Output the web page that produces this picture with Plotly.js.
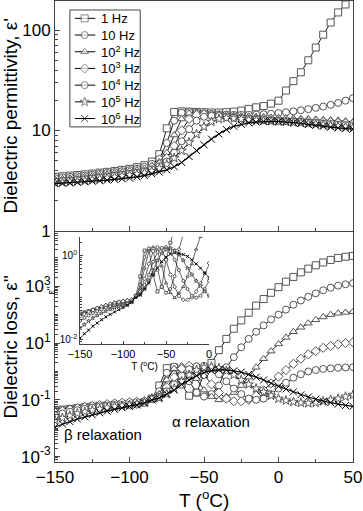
<!DOCTYPE html>
<html>
<head>
<meta charset="utf-8">
<script src="https://cdn.plot.ly/plotly-3.0.1.min.js"></script>
<style>
  html, body { margin: 0; padding: 0; background: #fff; }
  #plot { width: 363px; height: 511px; }
</style>
</head>
<body>
<div id="plot"></div>
<script>
// Temperature grid (°C)
var temp = [-150, -145, -140, -135, -130, -125, -120, -115, -110, -105, -100, -95, -90, -85, -80, -75, -70, -65, -60, -55,
  -50, -45, -40, -35, -30, -25, -20, -15, -10, -5, 0, 5, 10, 15, 20, 25, 30, 35, 40, 45, 50];

var freqNames = ['1 Hz', '10 Hz', '10<sup>2</sup> Hz', '10<sup>3</sup> Hz', '10<sup>4</sup> Hz', '10<sup>5</sup> Hz', '10<sup>6</sup> Hz'];

// Dielectric permittivity, eps'
var perm1Hz = [3.45, 3.5, 3.55, 3.6, 3.65, 3.72, 3.8, 3.87, 3.95, 4.05, 4.15, 4.3, 4.5, 4.9, 5.8, 10.5, 15.3, 15.5, 15.4, 15.3,
  15.2, 15.1, 15.1, 15.2, 15.4, 15.8, 16.4, 17.0, 17.5, 18.5, 19.8, 25, 31, 38, 50, 67, 90, 119, 150, 180, 215];
var perm10Hz = [3.35, 3.4, 3.45, 3.5, 3.55, 3.62, 3.7, 3.77, 3.85, 3.93, 4.03, 4.15, 4.33, 4.65, 5.2, 7.5, 12.5, 15.0, 15.2, 15.0,
  14.8, 14.6, 14.5, 14.4, 14.3, 14.3, 14.3, 14.4, 14.5, 14.7, 14.9, 15.2, 15.5, 15.9, 16.3, 16.8, 17.3, 18.0, 18.8, 19.8, 21.0];
var perm100Hz = [3.25, 3.3, 3.35, 3.4, 3.45, 3.52, 3.6, 3.67, 3.75, 3.83, 3.92, 4.03, 4.18, 4.45, 4.85, 6.0, 9.0, 13.0, 14.8, 14.9,
  14.7, 14.5, 14.3, 14.1, 14.0, 13.9, 13.8, 13.7, 13.6, 13.5, 13.4, 13.3, 13.2, 13.1, 13.0, 12.9, 12.8, 12.7, 12.6, 12.4, 12.2];
var perm1kHz = [3.15, 3.2, 3.25, 3.3, 3.35, 3.42, 3.5, 3.57, 3.65, 3.73, 3.82, 3.92, 4.05, 4.3, 4.6, 5.3, 7.0, 10.0, 13.0, 14.3,
  14.5, 14.3, 14.1, 13.9, 13.7, 13.5, 13.4, 13.2, 13.1, 13.0, 12.9, 12.8, 12.6, 12.5, 12.4, 12.3, 12.2, 12.1, 11.9, 11.8, 11.6];
var perm10kHz = [3.1, 3.14, 3.18, 3.22, 3.27, 3.33, 3.4, 3.47, 3.55, 3.62, 3.7, 3.8, 3.92, 4.1, 4.4, 4.9, 6.0, 7.8, 10.3, 12.5,
  13.7, 14.0, 13.9, 13.6, 13.4, 13.2, 13.0, 12.9, 12.7, 12.6, 12.5, 12.4, 12.3, 12.2, 12.0, 11.9, 11.7, 11.6, 11.4, 11.3, 11.1];
var perm100kHz = [3.0, 3.04, 3.08, 3.12, 3.17, 3.23, 3.3, 3.37, 3.45, 3.52, 3.6, 3.68, 3.8, 3.95, 4.2, 4.6, 5.3, 6.3, 7.6, 9.2,
  10.9, 12.2, 13.0, 13.3, 13.2, 13.0, 12.8, 12.7, 12.5, 12.4, 12.3, 12.2, 12.0, 11.9, 11.7, 11.6, 11.4, 11.2, 11.0, 10.9, 10.7];
var perm1MHz = [2.95, 2.98, 3.0, 3.04, 3.08, 3.12, 3.15, 3.2, 3.25, 3.3, 3.35, 3.45, 3.55, 3.7, 3.85, 4.05, 4.35, 4.8, 5.5, 6.3,
  7.2, 8.2, 9.2, 10.2, 11.0, 11.5, 11.9, 12.1, 12.3, 12.3, 12.3, 12.2, 12.0, 11.8, 11.5, 11.2, 11.0, 10.8, 10.6, 10.4, 10.3];

// Dielectric loss, eps''
var loss1Hz = [0.042, 0.045, 0.048, 0.051, 0.055, 0.058, 0.061, 0.064, 0.067, 0.070, 0.073, 0.077, 0.082, 0.11, 0.32, 1.3, 1.4, 0.35, 0.14, 0.18,
  0.8, 2.0, 5.6, 14, 32, 63, 117, 209, 355, 590, 930, 1450, 2140, 3090, 4170, 5500, 6900, 8500, 10000, 11000, 11700];
var loss10Hz = [0.040, 0.044, 0.048, 0.052, 0.056, 0.060, 0.064, 0.068, 0.072, 0.076, 0.080, 0.084, 0.088, 0.11, 0.2, 0.9, 1.48, 1.26, 0.45, 0.18,
  0.13, 0.16, 0.32, 1.4, 3.2, 7.1, 14, 25, 42, 68, 100, 151, 224, 316, 427, 562, 724, 891, 1050, 1175, 1290];
var loss100Hz = [0.038, 0.043, 0.048, 0.053, 0.058, 0.063, 0.068, 0.073, 0.078, 0.082, 0.086, 0.089, 0.092, 0.105, 0.16, 0.5, 1.26, 1.58, 1.3, 0.56,
  0.22, 0.13, 0.1, 0.13, 0.18, 0.32, 0.63, 1.4, 2.8, 5.2, 9.3, 15.8, 25, 36, 50, 66, 83, 100, 112, 120, 126];
var loss1kHz = [0.036, 0.041, 0.046, 0.051, 0.056, 0.061, 0.066, 0.071, 0.075, 0.079, 0.082, 0.085, 0.09, 0.11, 0.14, 0.28, 0.63, 1.26, 1.58, 1.41,
  0.79, 0.35, 0.18, 0.11, 0.089, 0.089, 0.1, 0.14, 0.22, 0.38, 0.66, 1.12, 1.86, 2.8, 4.0, 5.2, 6.8, 7.9, 9.1, 10, 10.7];
var loss10kHz = [0.028, 0.033, 0.038, 0.043, 0.048, 0.053, 0.058, 0.062, 0.065, 0.066, 0.066, 0.068, 0.078, 0.11, 0.126, 0.2, 0.35, 0.71, 1.2, 1.51,
  1.58, 1.26, 0.79, 0.45, 0.25, 0.16, 0.11, 0.1, 0.11, 0.16, 0.25, 0.4, 0.6, 0.8, 1.0, 1.12, 1.23, 1.29, 1.35, 1.38, 1.41];
var loss100kHz = [0.019, 0.023, 0.028, 0.033, 0.038, 0.043, 0.048, 0.053, 0.058, 0.062, 0.066, 0.072, 0.082, 0.11, 0.117, 0.16, 0.25, 0.45, 0.76, 1.12,
  1.38, 1.48, 1.32, 1.05, 0.76, 0.5, 0.35, 0.25, 0.19, 0.14, 0.11, 0.095, 0.085, 0.079, 0.076, 0.079, 0.089, 0.1, 0.11, 0.13, 0.15];
var loss1MHz = [0.011, 0.014, 0.017, 0.021, 0.025, 0.030, 0.035, 0.040, 0.046, 0.052, 0.058, 0.066, 0.078, 0.10, 0.117, 0.16, 0.22, 0.35, 0.5, 0.71,
  0.91, 1.07, 1.15, 1.12, 1.05, 0.95, 0.79, 0.63, 0.5, 0.38, 0.3, 0.24, 0.19, 0.15, 0.126, 0.105, 0.089, 0.079, 0.071, 0.063, 0.059];

var permSets = [perm1Hz, perm10Hz, perm100Hz, perm1kHz, perm10kHz, perm100kHz, perm1MHz];
var lossSets = [loss1Hz, loss10Hz, loss100Hz, loss1kHz, loss10kHz, loss100kHz, loss1MHz];

// marker style per frequency
var symbols = ['square', 'circle', 'triangle-up', 'diamond', 'circle', 'star', 'x-thin-open'];

function markerFor(i, size) {
  if (i === 6) return { symbol: symbols[i], size: size, line: { color: '#777', width: 1 } };
  return { symbol: symbols[i], size: size, color: 'white', line: { color: '#555', width: 1 } };
}

var FAM = 'Arial, Liberation Sans, sans-serif';
var data = [];
var annotations = [];

for (var i = 0; i < 7; i++) {
  var lw = i === 6 ? 1.2 : 0.9;
  data.push({
    x: temp, y: permSets[i], xaxis: 'x', yaxis: 'y', type: 'scatter', mode: 'lines+markers',
    name: freqNames[i], line: { color: '#000', width: lw }, marker: markerFor(i, 7)
  });
  data.push({
    x: temp, y: lossSets[i], xaxis: 'x2', yaxis: 'y2', type: 'scatter', mode: 'lines+markers',
    line: { color: '#000', width: lw }, marker: markerFor(i, 7)
  });
  data.push({
    x: temp, y: lossSets[i], xaxis: 'x3', yaxis: 'y3', type: 'scatter', mode: 'lines+markers',
    line: { color: '#000', width: 0.6 }, marker: markerFor(i, 3)
  });
  // legend sample (own small hidden axes inside the box)
  var m = markerFor(i, 7);
  m.size = [0, 7, 0];
  data.push({
    x: [0.07, 0.21, 0.36], y: [i + 0.5, i + 0.5, i + 0.5], xaxis: 'x4', yaxis: 'y4', type: 'scatter',
    mode: 'lines+markers', line: { color: '#000', width: 1 }, marker: m
  });
  annotations.push({
    xref: 'x4', yref: 'y4', x: 0.42, y: i + 0.5, xanchor: 'left', yanchor: 'middle', showarrow: false,
    text: freqNames[i], font: { family: FAM, size: 13, color: '#000' }
  });
}

annotations.push(
  { xref: 'paper', yref: 'paper', x: 0.022, y: 0.059, xanchor: 'left', yanchor: 'middle', showarrow: false,
    text: 'β relaxation', font: { family: FAM, size: 15, color: '#000' } },
  { xref: 'paper', yref: 'paper', x: 0.386, y: 0.088, xanchor: 'left', yanchor: 'middle', showarrow: false,
    text: 'α relaxation', font: { family: FAM, size: 15, color: '#000' } },
  // x axis title of the lower panel
  { xref: 'paper', yref: 'paper', x: 0.5, y: -0.049, xanchor: 'center', yanchor: 'top', showarrow: false,
    text: 'T (<sup>o</sup>C)', font: { family: FAM, size: 19, color: '#000' } }
);

// minor log ticks
function logMinor(d0, d1, withDecades) {
  var out = [];
  for (var d = d0; d <= d1; d++) {
    for (var k = 1; k < 10; k++) {
      if (k === 1 && !withDecades) continue;
      out.push(k * Math.pow(10, d));
    }
  }
  return out;
}

var tickFont = { family: FAM, size: 17, color: '#000' };
var titleFont = { family: FAM, size: 19, color: '#000' };
var smallFont = { family: FAM, size: 10, color: '#000' };

var layout = {
  width: 363, height: 511,
  margin: { l: 55, r: 10, t: 1, b: 49 },
  paper_bgcolor: 'white', plot_bgcolor: 'white',
  showlegend: false,
  xaxis: {
    anchor: 'y', domain: [0, 1], range: [-150, 50], showticklabels: false,
    showline: true, linecolor: '#444', linewidth: 1, mirror: true, showgrid: false, zeroline: false,
    ticks: 'inside', ticklen: 5, tickcolor: '#444', dtick: 50, tick0: -150,
    minor: { ticks: 'inside', ticklen: 3, dtick: 25, tick0: -150, tickcolor: '#444' }
  },
  yaxis: {
    anchor: 'x', domain: [0.5015, 1], type: 'log', range: [0, 2.29],
    showline: true, linecolor: '#444', linewidth: 1, mirror: true, showgrid: false, zeroline: false,
    ticks: 'inside', ticklen: 5, tickcolor: '#444',
    tickmode: 'array', tickvals: [1, 10, 100], ticktext: ['1', '10', '100'], tickfont: tickFont,
    minor: { ticks: 'inside', ticklen: 3, tickcolor: '#444', tickmode: 'array', tickvals: logMinor(0, 2, false) },
    title: { text: "Dielectric permittivity, ε'", font: titleFont, standoff: 4 }
  },
  xaxis2: {
    anchor: 'y2', domain: [0, 1], range: [-150, 50],
    showline: true, linecolor: '#444', linewidth: 1, mirror: true, showgrid: false, zeroline: false,
    ticks: 'inside', ticklen: 5, tickcolor: '#444', dtick: 50, tick0: -150, tickfont: tickFont,
    minor: { ticks: 'inside', ticklen: 3, dtick: 25, tick0: -150, tickcolor: '#444' }
  },
  yaxis2: {
    anchor: 'x2', domain: [0, 0.5], type: 'log', range: [-3.19, 4.93],
    showline: true, linecolor: '#444', linewidth: 1, mirror: true, showgrid: false, zeroline: false,
    ticks: 'inside', ticklen: 5, tickcolor: '#444',
    tickmode: 'array', tickvals: [0.001, 0.1, 10, 1000],
    ticktext: ['10<sup>-3</sup>', '10<sup>-1</sup>', '10<sup>1</sup>', '10<sup>3</sup>'], tickfont: tickFont,
    minor: { ticks: 'inside', ticklen: 2.5, tickcolor: '#444', tickmode: 'array', tickvals: logMinor(-4, 4, true) },
    title: { text: "Dielectric loss, ε''", font: titleFont, standoff: 2 }
  },
  xaxis3: {
    anchor: 'y3', domain: [0.084, 0.517], range: [-150, 0],
    showline: true, linecolor: '#444', linewidth: 1, mirror: false, showgrid: false, zeroline: false,
    ticks: 'inside', ticklen: 3, tickcolor: '#444', dtick: 50, tick0: -150,
    tickfont: { family: FAM, size: 11, color: '#000' },
    minor: { ticks: 'inside', ticklen: 2, dtick: 25, tick0: -150, tickcolor: '#444' },
    title: { text: 'T (<sup>o</sup>C)', font: smallFont, standoff: 1 }
  },
  yaxis3: {
    anchor: 'x3', domain: [0.2558, 0.4884], type: 'log', range: [-2.1, 0.44],
    showline: true, linecolor: '#444', linewidth: 1, mirror: false, showgrid: false, zeroline: false,
    ticks: 'inside', ticklen: 3, tickcolor: '#444',
    tickmode: 'array', tickvals: [0.01, 1], ticktext: ['10<sup>-2</sup>', '10<sup>0</sup>'], tickfont: smallFont,
    minor: { ticks: 'inside', ticklen: 2, tickcolor: '#444', tickmode: 'array', tickvals: logMinor(-3, 0, true) },
    title: { text: "ε''", font: smallFont, standoff: 2 }
  },
  // legend box area
  xaxis4: { anchor: 'y4', domain: [0.05, 0.286], range: [0, 1], visible: false, fixedrange: true },
  yaxis4: { anchor: 'x4', domain: [0.7269, 0.9805], range: [7, 0], visible: false, fixedrange: true },
  shapes: [
    { type: 'rect', xref: 'paper', yref: 'paper', x0: 0.05, x1: 0.286, y0: 0.7269, y1: 0.9805,
      line: { color: '#444', width: 1 }, fillcolor: 'rgba(0,0,0,0)', layer: 'above' }
  ],
  annotations: annotations
};

Plotly.newPlot('plot', data, layout, { displayModeBar: false, staticPlot: true });
</script>
</body>
</html>
